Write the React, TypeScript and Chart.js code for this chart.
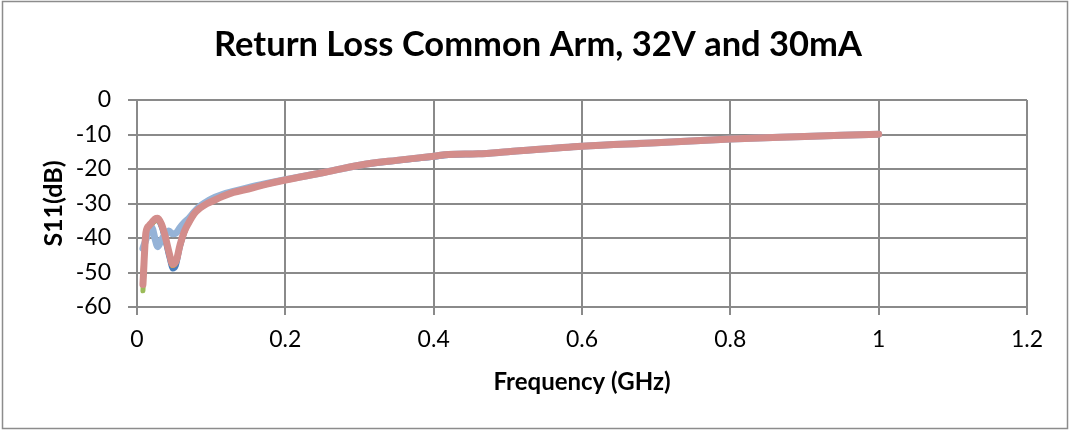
import { useEffect, useRef } from "react";
import { Chart, registerables } from "chart.js";

Chart.register(...registerables);

const TITLE = "Return Loss Common Arm, 32V and 30mA";
const X_TITLE = "Frequency (GHz)";
const Y_TITLE = "S11(dB)";

const frequencies = [
  0.008, 0.012, 0.016, 0.02, 0.024, 0.028, 0.033, 0.038, 0.043, 0.048, 0.053, 0.058,
  0.064, 0.07, 0.077, 0.085, 0.093, 0.1, 0.115, 0.13, 0.15, 0.175, 0.2, 0.25, 0.3,
  0.35, 0.4, 0.42, 0.46, 0.5, 0.6, 0.7, 0.8, 0.9, 1.0,
];

const seriesDarkBlue = [
  -51, -40, -37, -36, -35, -35, -37, -41, -45.5, -49, -48, -43,
  -38.5, -35.5, -33, -31.2, -30, -29.3, -27.8, -26.6, -25.6, -24.3, -23.1, -21.1, -19,
  -17.7, -16.6, -16.1, -15.7, -15.1, -13.5, -12.5, -11.4, -10.6, -9.9,
];

const seriesOrange = [
  -50, -39, -37, -36, -35, -34.8, -36.5, -40, -44.5, -48, -47, -42.5,
  -38.5, -35.7, -33.2, -31.3, -30.1, -29.4, -27.9, -26.7, -25.7, -24.4, -23.2, -21.1, -18.9,
  -17.5, -16.3, -15.8, -15.6, -15.0, -13.4, -12.4, -11.3, -10.6, -9.9,
];

const seriesGreen = [
  -55.3, -39.5, -37, -36, -35, -34.6, -36.3, -39.8, -44.2, -47.8, -46.8, -42.3,
  -38.3, -35.6, -33.1, -31.3, -30.1, -29.4, -27.9, -26.7, -25.7, -24.4, -23.2, -21.1, -18.9,
  -17.5, -16.3, -15.8, -15.6, -15.0, -13.4, -12.4, -11.3, -10.6, -9.9,
];

const seriesLightBlue = [
  -43, -40.5, -37.5, -37, -40, -42.5, -40.5, -39, -38, -38.8, -38.5, -37,
  -35.5, -34.3, -32.5, -30.8, -29.6, -28.7, -27.4, -26.5, -25.4, -24.2, -23.1, -21.1, -18.9,
  -17.5, -16.3, -15.8, -15.6, -15.0, -13.4, -12.4, -11.3, -10.6, -9.9,
];

const seriesPink = [
  -53.5, -38.5, -36.5, -35.5, -34.5, -34.3, -36, -39.5, -44, -47.5, -46.5, -42,
  -38, -35.5, -33, -31.3, -30.2, -29.5, -28, -26.8, -25.8, -24.4, -23.2, -21.1, -18.9,
  -17.5, -16.3, -15.8, -15.6, -15.0, -13.4, -12.4, -11.3, -10.6, -9.9,
];

const xTickLabels = ["0", "0.2", "0.4", "0.6", "0.8", "1", "1.2"];
const yTickLabels = ["-60", "-50", "-40", "-30", "-20", "-10", "0"];

const FONT = "Lato, 'Open Sans', sans-serif";
const GRID = "#8a8a8a";

function toPoints(ys: number[]) {
  return ys.map((y, i) => ({ x: frequencies[i], y }));
}

const framePlugin = {
  id: "frame",
  beforeDraw(chart: any) {
    const { ctx, width, height } = chart;
    ctx.save();
    ctx.fillStyle = "#ffffff";
    ctx.fillRect(0, 0, width, height);
    ctx.strokeStyle = "#8c8c8c";
    ctx.lineWidth = 1.5;
    ctx.strokeRect(2.5, 1.5, 1065, 427);
    ctx.restore();
  },
  afterDraw(chart: any) {
    const { ctx, chartArea } = chart;
    ctx.save();
    ctx.fillStyle = "#000000";
    ctx.textAlign = "center";
    ctx.textBaseline = "middle";
    ctx.font = `bold 34.5px ${FONT}`;
    ctx.fillText(TITLE, 538, 45);
    ctx.font = `bold 24px ${FONT}`;
    ctx.fillText(X_TITLE, (chartArea.left + chartArea.right) / 2, 382);
    ctx.translate(54, (chartArea.top + chartArea.bottom) / 2);
    ctx.rotate(-Math.PI / 2);
    ctx.font = `bold 25px ${FONT}`;
    ctx.fillText(Y_TITLE, 0, 0);
    ctx.restore();
  },
};

export default function App() {
  const ref = useRef<HTMLCanvasElement | null>(null);

  useEffect(() => {
    document.body.style.margin = "0";
    const canvas = ref.current;
    if (!canvas) return;
    const line = (label: string, data: number[], color: string, width: number, order: number) => ({
      label,
      data: toPoints(data),
      borderColor: color,
      backgroundColor: color,
      borderWidth: width,
      pointRadius: 0,
      showLine: true,
      cubicInterpolationMode: "monotone" as const,
      borderCapStyle: "round" as const,
      borderJoinStyle: "round" as const,
      order,
    });
    const chart = new Chart(canvas, {
      type: "scatter",
      data: {
        datasets: [
          line("Series 5", seriesPink, "#d38d8b", 7, 0),
          line("Series 4", seriesLightBlue, "#95b3d7", 7, 1),
          line("Series 3", seriesGreen, "#9bbb59", 5, 2),
          line("Series 2", seriesOrange, "#f79646", 5, 3),
          line("Series 1", seriesDarkBlue, "#4a7ebb", 5, 4),
        ],
      },
      plugins: [framePlugin],
      options: {
        responsive: false,
        animation: false,
        layout: { padding: { left: 0, right: 44, top: 100, bottom: 0 } },
        plugins: {
          legend: { display: false },
          title: { display: false },
          tooltip: { enabled: false },
        },
        scales: {
          x: {
            type: "linear",
            min: 0,
            max: 1.2,
            afterFit: (s: any) => {
              s.height = 124;
            },
            afterBuildTicks: (s: any) => {
              s.ticks = xTickLabels.map((t) => ({ value: parseFloat(t) }));
            },
            ticks: {
              callback: (v: any) => {
                const i = xTickLabels.findIndex((t) => Math.abs(parseFloat(t) - v) < 1e-6);
                return i >= 0 ? xTickLabels[i] : "";
              },
              color: "#000",
              font: { family: FONT, size: 23 },
              padding: 11,
              maxRotation: 0,
            },
            grid: { color: GRID, lineWidth: 2, tickLength: 8, tickColor: GRID },
            border: { color: GRID, width: 2 },
          },
          y: {
            type: "linear",
            min: -60,
            max: 0,
            afterFit: (s: any) => {
              s.width = 137;
            },
            afterBuildTicks: (s: any) => {
              s.ticks = yTickLabels.map((t) => ({ value: parseFloat(t) }));
            },
            ticks: {
              callback: (v: any) => {
                const i = yTickLabels.findIndex((t) => Math.abs(parseFloat(t) - v) < 1e-6);
                return i >= 0 ? yTickLabels[i] : "";
              },
              color: "#000",
              font: { family: FONT, size: 23 },
              padding: 17,
            },
            grid: { color: GRID, lineWidth: 2, tickLength: 9, tickColor: GRID },
            border: { color: GRID, width: 2 },
          },
        },
      },
    });
    return () => chart.destroy();
  }, []);

  return (
    <div style={{ position: "absolute", left: 0, top: 0, width: 1071, height: 431 }}>
      <canvas ref={ref} width={1071} height={431} />
    </div>
  );
}
